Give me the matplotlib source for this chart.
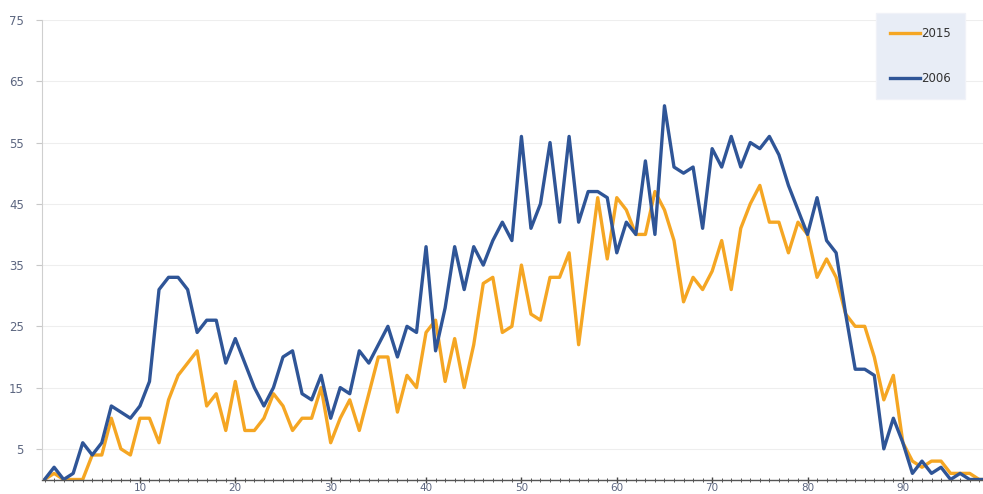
import matplotlib.pyplot as plt
from matplotlib.ticker import MultipleLocator

# values, index 0..99
x_values = list(range(100))

series_2015 = [0, 1, 0, 0, 0, 4, 4, 10, 5, 4,
               10, 10, 6, 13, 17, 19, 21, 12, 14, 8,
               16, 8, 8, 10, 14, 12, 8, 10, 10, 15,
               6, 10, 13, 8, 14, 20, 20, 11, 17, 15,
               24, 26, 16, 23, 15, 22, 32, 33, 24, 25,
               35, 27, 26, 33, 33, 37, 22, 34, 46, 36,
               46, 44, 40, 40, 47, 44, 39, 29, 33, 31,
               34, 39, 31, 41, 45, 48, 42, 42, 37, 42,
               40, 33, 36, 33, 27, 25, 25, 20, 13, 17,
               6, 3, 2, 3, 3, 1, 1, 1, 0, 0]

series_2006 = [0, 2, 0, 1, 6, 4, 6, 12, 11, 10,
               12, 16, 31, 33, 33, 31, 24, 26, 26, 19,
               23, 19, 15, 12, 15, 20, 21, 14, 13, 17,
               10, 15, 14, 21, 19, 22, 25, 20, 25, 24,
               38, 21, 28, 38, 31, 38, 35, 39, 42, 39,
               56, 41, 45, 55, 42, 56, 42, 47, 47, 46,
               37, 42, 40, 52, 40, 61, 51, 50, 51, 41,
               54, 51, 56, 51, 55, 54, 56, 53, 48, 44,
               40, 46, 39, 37, 27, 18, 18, 17, 5, 10,
               6, 1, 3, 1, 2, 0, 1, 0, 0, 0]

labels = ['2015', '2006']
colors = ['#F5A623', '#2F5597']

y_ticks = [5, 15, 25, 35, 45, 55, 65, 75]
x_ticks = [10, 20, 30, 40, 50, 60, 70, 80, 90]

W, H = 983, 494
fig = plt.figure(figsize=(W / 100, H / 100), dpi=100)
ax = fig.add_axes([42 / W, 14.5 / H, 941 / W, 459.5 / H])

ax.plot(x_values, series_2015, color=colors[0], lw=2.4, label=labels[0],
        solid_joinstyle='round')
ax.plot(x_values, series_2006, color=colors[1], lw=2.4, label=labels[1],
        solid_joinstyle='round')

ax.set_xlim(-0.27, 98.4)
ax.set_ylim(0, 75)

# grid + ticks
ax.set_yticks(y_ticks)
ax.set_xticks(x_ticks)
ax.xaxis.set_minor_locator(MultipleLocator(1))
ax.grid(axis='y', color='#eeeeee', lw=0.8)
ax.set_axisbelow(True)

ax.tick_params(axis='y', length=4, width=0.8, color='#c8c8c8', pad=9,
               labelsize=8.5, labelcolor='#5c6680')
# x labels are cropped in the original, keep them just inside the frame
ax.tick_params(axis='x', which='major', length=4, width=1.0, color='#444444',
               direction='inout', pad=0.5, labelsize=7.5, labelcolor='#5c6680')
ax.tick_params(axis='x', which='minor', length=3, width=0.7, color='#555555',
               direction='inout')

for side in ['top', 'right']:
    ax.spines[side].set_visible(False)
ax.spines['left'].set_color('#cfcfcf')
ax.spines['left'].set_linewidth(0.8)
ax.spines['bottom'].set_color('#555555')
ax.spines['bottom'].set_linewidth(1.0)

leg = ax.legend(loc='upper right', bbox_to_anchor=(965 / W, 1 - 13 / H),
                bbox_transform=fig.transFigure, frameon=True, fontsize=8.5,
                handlelength=2.5, handletextpad=0.1, labelspacing=2.7,
                borderpad=1.2, borderaxespad=0, fancybox=False)
leg.get_frame().set_facecolor('#e8edf6')
leg.get_frame().set_edgecolor('#f0f2f8')
leg.get_frame().set_alpha(1)
for t in leg.get_texts():
    t.set_color('#333333')

fig.savefig('out.png', dpi=100)
